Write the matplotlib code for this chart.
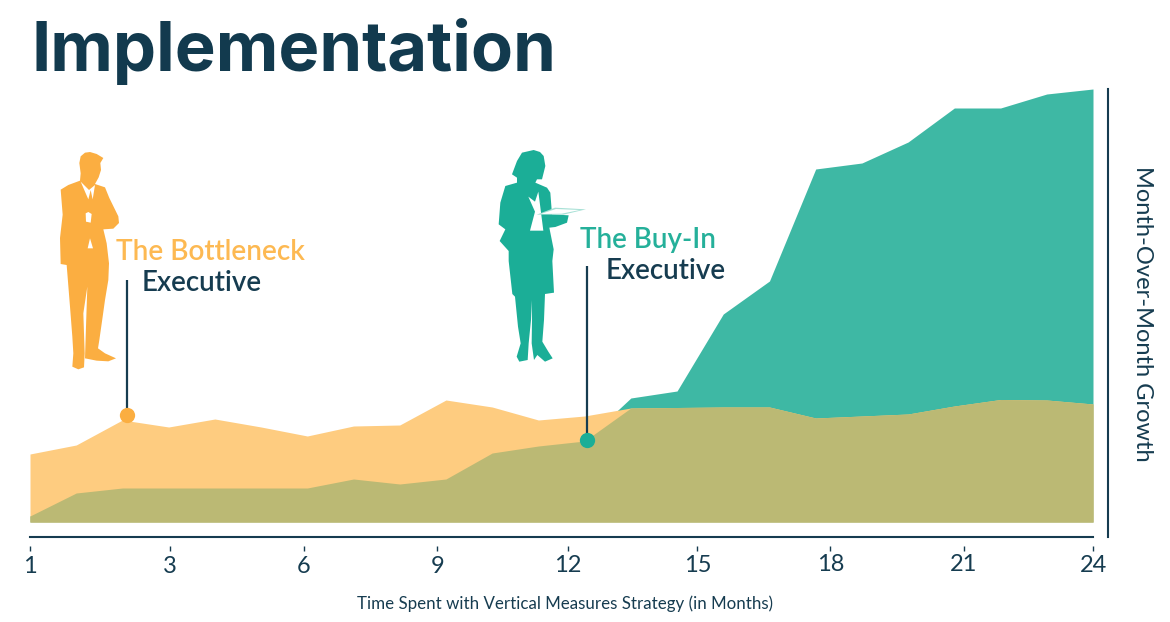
import numpy as np
import matplotlib
matplotlib.use('Agg')
import matplotlib.pyplot as plt
from matplotlib.patches import Polygon
from matplotlib.transforms import ScaledTranslation

# x = month slot, y = growth (no scale printed on the chart)
months = np.arange(1, 25)
bottleneck = [68, 77, 102, 95, 103, 95, 86, 96, 97, 122, 115, 102,
              106, 114, 114.5, 115, 115, 104, 106, 108, 116, 122.5, 122, 118]
buy_in = [6, 29, 34, 34, 34, 34, 34, 43, 38, 43, 69, 76,
          81, 124, 131, 208, 241, 353, 359, 380, 414, 414, 428, 433]

tick_pos = [1, 4.03, 6.93, 9.81, 12.63, 15.44, 18.32, 21.2, 24]
tick_labels = ['1', '3', '6', '9', '12', '15', '18', '21', '24']
tick_shift = [0, 0, 0, 0, 1, 1, 2, 2, 1]

callout_x = [3.1, 13.05]
callout_y = [107, 82]

NAVY = '#163C50'
ORANGE = '#FBAE41'
TEAL = '#1BAE97'
W, H = 1170, 622

plt.rcParams['font.family'] = ['Lato', 'DejaVu Sans']
fig = plt.figure(figsize=(W / 100, H / 100), dpi=100)

# chart area in pixels: x 30..1093, y 89..522
ax = fig.add_axes([30 / W, 1 - 522 / H, (1093 - 30) / W, (522 - 89) / H])
ax.set_xlim(1, 24)
ax.set_ylim(0, 433)
ax.fill_between(months, 0, buy_in, color='#3EB8A4', lw=0)
ax.fill_between(months, 0, bottleneck, color='#FECC80', lw=0)
ax.fill_between(months, 0, np.minimum(bottleneck, buy_in), color='#BBB974', lw=0)
for s in ax.spines.values():
    s.set_visible(False)
ax.set_yticks([])
ax.set_xticks([])

# ticks sit below the axis line, with a gap
tick_ax = ax.secondary_xaxis(-(546 - 522) / 433)
tick_ax.spines['bottom'].set_visible(False)
tick_ax.set_xticks(tick_pos, tick_labels)
tick_ax.tick_params(axis='x', length=3.6, width=1, color=NAVY, labelcolor=NAVY,
                    labelsize=17, pad=3.5)
for lbl, shift in zip(tick_ax.get_xticklabels(), tick_shift):
    lbl.set_transform(lbl.get_transform() + ScaledTranslation(0, shift / 100, fig.dpi_scale_trans))

# callouts
ax.vlines(callout_x[0], callout_y[0], 522 - 280, color=NAVY, lw=1.6, clip_on=False, zorder=3)
ax.vlines(callout_x[1], callout_y[1], 522 - 266, color=NAVY, lw=1.6, clip_on=False, zorder=3)
ax.plot(callout_x[0], callout_y[0], 'o', color=ORANGE, ms=11, mew=0, zorder=4)
ax.plot(callout_x[1], callout_y[1], 'o', color=TEAL, ms=11, mew=0, zorder=4)

# overlay in image pixels for the text, rules and silhouettes
over = fig.add_axes([0, 0, 1, 1], facecolor='none')
over.set_xlim(0, W)
over.set_ylim(H, 0)
over.axis('off')
over.plot([30, 1093], [536.5, 536.5], color=NAVY, lw=1.5)
over.plot([1108, 1108], [89, 537], color=NAVY, lw=1.5)

over.text(32, 71, 'Implementation', color='#123A4E', fontsize=49.5, fontweight='bold',
          family=['Inter', 'DejaVu Sans'], va='baseline')
over.text(116, 260, 'The Bottleneck', color='#FDB952', fontsize=20.2, fontweight='semibold', va='baseline')
over.text(142, 291, 'Executive', color=NAVY, fontsize=20, fontweight='semibold', va='baseline')
over.text(580, 248, 'The Buy-In', color='#25B09A', fontsize=20, fontweight='semibold', va='baseline')
over.text(606, 279, 'Executive', color=NAVY, fontsize=20, fontweight='semibold', va='baseline')
over.text(565, 604, 'Time Spent with Vertical Measures Strategy (in Months)', color=NAVY,
          fontsize=12.15, ha='center', va='center')
over.text(1142, 314, 'Month-Over-Month Growth', color=NAVY, fontsize=17, rotation=270,
          ha='center', va='center')


def shape(points, ox, oy, **kw):
    pts = [(ox + x / 3, oy + y / 3) for x, y in points]
    over.add_patch(Polygon(pts, closed=True, lw=0, **kw))


man = [(150, 36), (170, 42), (190, 54), (181, 69), (183, 90), (176, 112), (165, 132), (195, 142),
       (208, 174), (235, 229), (237, 249), (220, 266), (190, 268), (200, 310), (207, 370), (205, 420),
       (195, 480), (188, 530), (178, 600), (174, 625), (195, 640), (228, 655), (205, 664), (170, 662),
       (135, 655), (138, 560), (142, 440), (130, 520), (134, 640), (132, 682), (115, 688), (97, 680),
       (100, 640), (97, 590), (90, 500), (80, 375), (62, 372), (60, 294), (68, 224), (62, 149),
       (85, 135), (120, 122), (122, 100), (118, 69), (122, 49), (135, 38)]
shape(man, 40, 140, color=ORANGE)
shape([(122, 125), (147, 150), (165, 135), (158, 178), (152, 150), (145, 178)], 40, 140, color='white')
shape([(137, 220), (145, 216), (155, 222), (152, 248), (138, 245)], 40, 140, color='white')
shape([(150, 295), (159, 325), (143, 325)], 40, 140, color='white')

woman = [(161, 30), (180, 36), (191, 48), (196, 78), (191, 98), (186, 118), (171, 118), (166, 128),
         (201, 143), (211, 158), (216, 223), (266, 226), (261, 248), (226, 261), (208, 263), (221, 328),
         (217, 363), (222, 458), (195, 462), (192, 540), (187, 605), (205, 635), (218, 655), (195, 665),
         (172, 645), (162, 660), (155, 610), (156, 540), (155, 480), (153, 540), (146, 610), (143, 660),
         (118, 665), (110, 650), (122, 610), (114, 560), (105, 470), (97, 462), (86, 363), (86, 333),
         (59, 303), (76, 268), (56, 253), (61, 188), (76, 138), (111, 128), (111, 113), (96, 103),
         (111, 63), (126, 38)]
shape(woman, 480, 140, color=TEAL)
shape([(145, 170), (165, 185), (175, 155), (190, 272), (150, 272), (165, 215)], 480, 140, color='white')
shape([(170, 224), (225, 203), (318, 208), (250, 224)], 480, 140, color='#A6E0D5')
shape([(182, 222), (228, 207), (300, 210), (245, 221)], 480, 140, color='white')

fig.savefig('out.png', dpi=100)
